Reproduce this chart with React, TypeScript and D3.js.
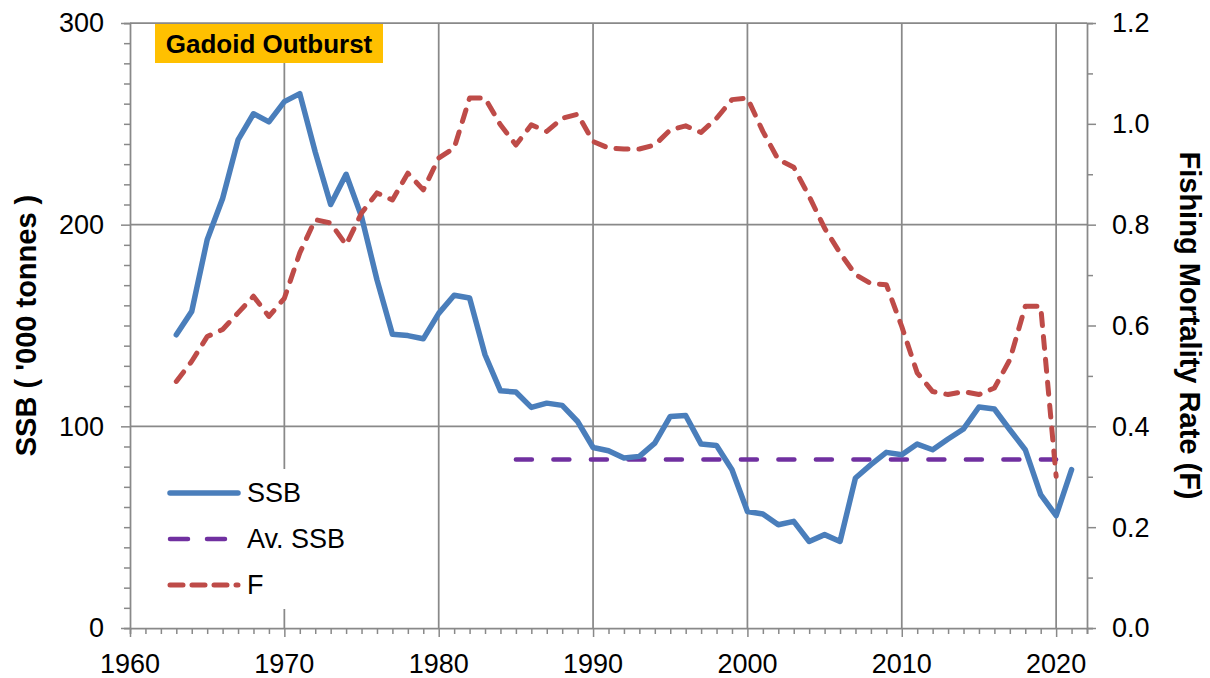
import React, { useEffect, useRef } from 'react'

import * as d3 from 'd3'

const ssbYears = [
  1963, 1964, 1965, 1966, 1967, 1968, 1969, 1970, 1971, 1972, 1973, 1974, 1975, 1976, 1977, 1978, 1979,
  1980, 1981, 1982, 1983, 1984, 1985, 1986, 1987, 1988, 1989, 1990, 1991, 1992, 1993, 1994, 1995, 1996,
  1997, 1998, 1999, 2000, 2001, 2002, 2003, 2004, 2005, 2006, 2007, 2008, 2009, 2010, 2011, 2012, 2013,
  2014, 2015, 2016, 2017, 2018, 2019, 2020, 2021,
]
const ssbValues = [
  145.4, 157, 192.5, 213, 242, 255, 251, 261, 265, 236, 210, 225, 204, 172.7, 145.7, 145, 143.4, 156,
  165, 163.6, 135.5, 117.6, 117, 109.4, 111.5, 110.4, 102.4, 89.5, 87.9, 84.3, 85.1, 91.7, 104.9, 105.4,
  91.2, 90.5, 78.5, 57.8, 56.5, 51.2, 52.9, 42.9, 46.3, 42.9, 74.4, 81, 87.1, 85.9, 91.2, 88.4, 93.7,
  98.7, 109.6, 108.6, 98.3, 88.4, 66.1, 55.7, 78.5,
]
const fYears = ssbYears.slice(0, 58)
const fValues = [
  0.489, 0.529, 0.578, 0.592, 0.625, 0.658, 0.618, 0.654, 0.744, 0.81, 0.803, 0.76, 0.823, 0.863, 0.849,
  0.902, 0.869, 0.932, 0.952, 1.051, 1.051, 0.998, 0.958, 0.998, 0.985, 1.011, 1.019, 0.965, 0.952, 0.95,
  0.95, 0.958, 0.988, 0.996, 0.983, 1.011, 1.048, 1.051, 0.985, 0.929, 0.914, 0.856, 0.793, 0.744, 0.701,
  0.683, 0.681, 0.598, 0.506, 0.469, 0.463, 0.469, 0.463, 0.476, 0.532, 0.638, 0.638, 0.301,
]
const avgSsbYears = [1985, 2020]
const avgSsbValue = 83.5

const xTicks = [1960, 1970, 1980, 1990, 2000, 2010, 2020]
const ssbTicks = [0, 100, 200, 300]
const fTicks = [0, 0.2, 0.4, 0.6, 0.8, 1.0, 1.2]

const legendItems = ['SSB', 'Av. SSB', 'F']

const App = () => {
  const svgRef = useRef(null)

  useEffect(() => {
    if (!svgRef.current) return
    const svg = d3.select(svgRef.current)
    svg.selectAll('*').remove()

    const width = 1210
    const height = 678
    const margin = { top: 23, right: 123, bottom: 50, left: 130 }
    const font = 'Liberation Sans, Arial, sans-serif'
    const grey = '#898989'
    const blue = '#4a7ebb'
    const red = '#be4b48'
    const purple = '#7030a0'

    svg.attr('width', width).attr('height', height)

    const x = d3.scaleLinear().domain([1960, 2022]).range([margin.left, width - margin.right])
    const y = d3.scaleLinear().domain([0, 300]).range([height - margin.bottom, margin.top])
    const yF = d3.scaleLinear().domain([0, 1.2]).range([height - margin.bottom, margin.top])

    const x0 = x.range()[0]
    const x1 = x.range()[1]
    const yBot = y.range()[0]
    const yTop = y.range()[1]

    // gridlines
    const grid = svg.append('g').attr('stroke', grey).attr('stroke-width', 1.75)
    grid
      .selectAll('line.h')
      .data(ssbTicks.filter((d) => d > 0))
      .join('line')
      .attr('x1', x0)
      .attr('x2', x1)
      .attr('y1', (d) => y(d))
      .attr('y2', (d) => y(d))
    grid
      .selectAll('line.v')
      .data(xTicks.filter((d) => d > 1960))
      .join('line')
      .attr('x1', (d) => x(d))
      .attr('x2', (d) => x(d))
      .attr('y1', yTop)
      .attr('y2', yBot)

    // axes
    const bottomAxis = d3
      .axisBottom(x)
      .tickValues(d3.range(1960, 2023))
      .tickSize(6)
      .tickFormat(() => '')
    svg
      .append('g')
      .attr('transform', `translate(0,${yBot})`)
      .call(bottomAxis)
      .call((g) => g.select('.domain').attr('stroke', grey).attr('stroke-width', 1.75))
      .call((g) =>
        g
          .selectAll('.tick line')
          .attr('stroke', grey)
          .attr('stroke-width', 1.5)
          .attr('y2', (d: any) => (d % 10 === 0 ? 9 : 6))
      )
    svg
      .append('g')
      .selectAll('text')
      .data(xTicks)
      .join('text')
      .attr('x', (d) => x(d))
      .attr('y', yBot + 45)
      .attr('text-anchor', 'middle')
      .attr('font-family', font)
      .attr('font-size', 27)
      .text((d) => d)

    const leftAxis = d3
      .axisLeft(y)
      .tickValues(d3.range(0, 301, 10))
      .tickSize(6)
      .tickFormat(() => '')
    svg
      .append('g')
      .attr('transform', `translate(${x0},0)`)
      .call(leftAxis)
      .call((g) => g.select('.domain').attr('stroke', grey).attr('stroke-width', 1.75))
      .call((g) =>
        g
          .selectAll('.tick line')
          .attr('stroke', grey)
          .attr('stroke-width', 1.5)
          .attr('x2', (d: any) => (d % 100 === 0 ? -9 : -6))
      )
    svg
      .append('g')
      .selectAll('text')
      .data(ssbTicks)
      .join('text')
      .attr('x', 104)
      .attr('y', (d) => y(d))
      .attr('dy', '0.35em')
      .attr('text-anchor', 'end')
      .attr('font-family', font)
      .attr('font-size', 27)
      .text((d) => d)

    const rightAxis = d3
      .axisRight(yF)
      .tickValues(d3.range(0, 13).map((i) => i / 10))
      .tickSize(6)
      .tickFormat(() => '')
    svg
      .append('g')
      .attr('transform', `translate(${x1},0)`)
      .call(rightAxis)
      .call((g) => g.select('.domain').attr('stroke', grey).attr('stroke-width', 1.75))
      .call((g) =>
        g
          .selectAll('.tick line')
          .attr('stroke', grey)
          .attr('stroke-width', 1.5)
          .attr('x2', (d: any) => (Math.round(d * 10) % 2 === 0 ? 9 : 6))
      )
    svg
      .append('g')
      .selectAll('text')
      .data(fTicks)
      .join('text')
      .attr('x', x1 + 25)
      .attr('y', (d) => yF(d))
      .attr('dy', '0.35em')
      .attr('font-family', font)
      .attr('font-size', 27)
      .text((d) => d3.format('.1f')(d))

    // axis titles
    svg
      .append('text')
      .attr('transform', `translate(36,${(yTop + yBot) / 2}) rotate(-90)`)
      .attr('text-anchor', 'middle')
      .attr('font-family', font)
      .attr('font-weight', 'bold')
      .attr('font-size', 29)
      .text("SSB ( '000 tonnes )")
    svg
      .append('text')
      .attr('transform', `translate(1180,${(yTop + yBot) / 2}) rotate(90)`)
      .attr('text-anchor', 'middle')
      .attr('font-family', font)
      .attr('font-weight', 'bold')
      .attr('font-size', 29)
      .text('Fishing Mortality Rate (F)')

    // series
    const ssbLine = d3
      .line<number>()
      .x((d, i) => x(ssbYears[i]))
      .y((d) => y(d))
    const fLine = d3
      .line<number>()
      .x((d, i) => x(fYears[i]))
      .y((d) => yF(d))

    svg
      .append('path')
      .datum(avgSsbYears)
      .attr('fill', 'none')
      .attr('stroke', purple)
      .attr('stroke-width', 4.5)
      .attr('stroke-linecap', 'round')
      .attr('stroke-dasharray', '16,21.5')
      .attr(
        'd',
        d3
          .line<number>()
          .x((d) => x(d))
          .y(() => y(avgSsbValue))
      )

    svg
      .append('path')
      .datum(ssbValues)
      .attr('fill', 'none')
      .attr('stroke', blue)
      .attr('stroke-width', 5.5)
      .attr('stroke-linejoin', 'round')
      .attr('stroke-linecap', 'round')
      .attr('d', ssbLine)

    svg
      .append('path')
      .datum(fValues)
      .attr('fill', 'none')
      .attr('stroke', red)
      .attr('stroke-width', 5)
      .attr('stroke-linejoin', 'round')
      .attr('stroke-linecap', 'round')
      .attr('stroke-dasharray', '12,11')
      .attr('d', fLine)

    // title box
    svg
      .append('rect')
      .attr('x', 155)
      .attr('y', yTop + 1)
      .attr('width', 228)
      .attr('height', 39)
      .attr('fill', '#ffc000')
    svg
      .append('text')
      .attr('x', 269)
      .attr('y', yTop + 30)
      .attr('text-anchor', 'middle')
      .attr('font-family', font)
      .attr('font-weight', 'bold')
      .attr('font-size', 26)
      .text('Gadoid Outburst')

    // legend
    const legend = svg.append('g')
    legend
      .append('rect')
      .attr('x', 155)
      .attr('y', 469)
      .attr('width', 215)
      .attr('height', 140)
      .attr('fill', '#ffffff')
    const legendStyle = [
      { color: blue, dash: null, w: 5.5 },
      { color: purple, dash: '18,19', w: 4.5 },
      { color: red, dash: '13,9', w: 5 },
    ]
    const rows = legend
      .selectAll('g.row')
      .data(legendItems)
      .join('g')
      .attr('transform', (d, i) => `translate(0,${493 + i * 46})`)
    rows
      .append('line')
      .attr('x1', 170)
      .attr('x2', 238)
      .attr('stroke', (d, i) => legendStyle[i].color)
      .attr('stroke-width', (d, i) => legendStyle[i].w)
      .attr('stroke-linecap', 'round')
      .attr('stroke-dasharray', (d, i) => legendStyle[i].dash)
    rows
      .append('text')
      .attr('x', 247)
      .attr('dy', '0.35em')
      .attr('font-family', font)
      .attr('font-size', 27)
      .text((d) => d)
  }, [])

  return <svg ref={svgRef} style={{ position: 'absolute', left: 0, top: 0 }}></svg>
}

export default App
